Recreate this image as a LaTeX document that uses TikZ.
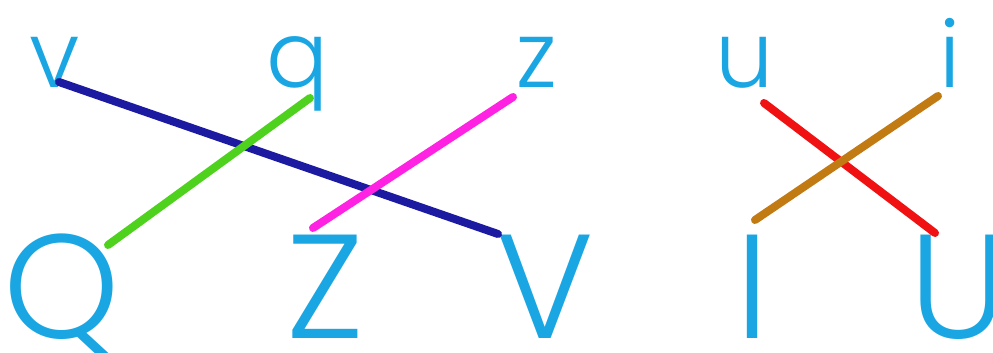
\documentclass[tikz,border=0pt]{standalone}
\usepackage{fontspec}
\setmainfont{Poppins}[UprightFont={* Light}]
\definecolor{letterblue}{HTML}{1AA6E2}
\definecolor{navyline}{HTML}{1C1AA0}
\definecolor{greenline}{HTML}{4ED21E}
\definecolor{magline}{HTML}{FF22E2}
\definecolor{redline}{HTML}{F01212}
\definecolor{brownline}{HTML}{C27A12}
\tikzset{
  low/.style={text=letterblue, anchor=base, inner sep=0pt, font=\fontsize{92}{92}\selectfont},
  up/.style={text=letterblue, anchor=base, inner sep=0pt, font=\fontsize{148}{148}\selectfont},
  link/.style={line width=8pt, line cap=round}
}
\begin{document}
\begin{tikzpicture}[x=1pt,y=-1pt]
\useasboundingbox (0,0) rectangle (993,353);
% top row
\node[low] (v) at (55,87) {v};
\node[low] (q) at (298,87) {q};
\node[low] (z) at (537,87) {z};
\node[low] (u) at (745,87) {u};
\node[low] (i) at (950,87) {i};
% bottom row
\node[up] (Q) at (62,338) {Q};
\node[up] (Z) at (325,338) {Z};
\node[up] (V) at (545,338) {V};
\node[up] (I) at (752,338) {I};
\node[up] (U) at (958,338) {U};
% connector ends
\coordinate (va) at (59,82);   \coordinate (Va) at (498,234);
\coordinate (qa) at (310,98);  \coordinate (Qa) at (108,245);
\coordinate (za) at (513,97);  \coordinate (Za) at (313,228);
\coordinate (ua) at (764,103); \coordinate (Ua) at (935,233);
\coordinate (ia) at (938,96);  \coordinate (Ia) at (755,220);
\draw[link, navyline] (va) -- (Va);
\draw[link, greenline] (qa) -- (Qa);
\draw[link, magline] (za) -- (Za);
\draw[link, redline] (ua) -- (Ua);
\draw[link, brownline] (ia) -- (Ia);
\end{tikzpicture}
\end{document}
